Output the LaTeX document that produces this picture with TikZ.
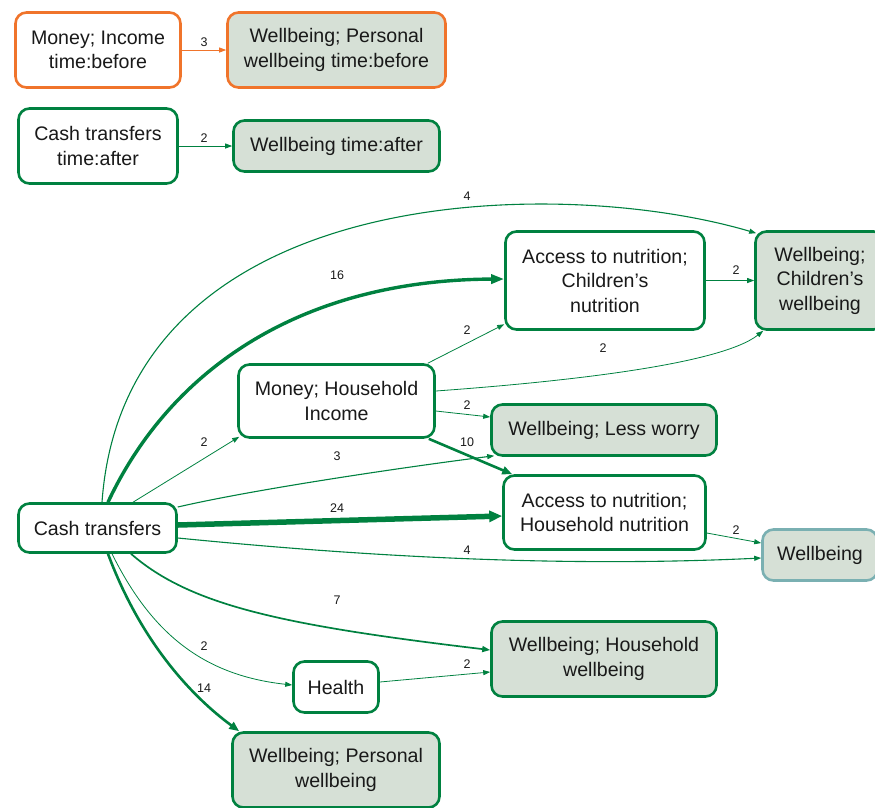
\documentclass[tikz,border=0pt]{standalone}
\usepackage{fontspec}
\setmainfont{Liberation Sans}
\usetikzlibrary{arrows.meta}
\definecolor{ogreen}{RGB}{0,129,64}
\definecolor{oorange}{RGB}{240,116,43}
\definecolor{boxgray}{RGB}{214,224,214}
\definecolor{tealb}{RGB}{122,176,178}
\begin{document}
\begin{tikzpicture}[x=1pt,y=-1pt,
  box/.style={draw=ogreen, line width=2.6pt, rounded corners=11pt, fill=white,
    align=center, inner sep=0pt, text=black!90,
    font=\fontsize{19.6}{24.5}\selectfont},
  outcome/.style={box, fill=boxgray},
  beforebox/.style={draw=oorange},
  lbl/.style={font=\fontsize{12.5}{12.5}\selectfont, inner sep=0pt, text=black!90},
  link/.style={draw=ogreen, line width=0.8pt, -{Triangle[length=7pt,width=5pt]}},
  linkm/.style={draw=ogreen, line width=1.1pt, -{Triangle[length=7pt,width=5pt]}},
  linkw/.style={draw=ogreen, line width=1.7pt, -{Triangle[length=8pt,width=6pt]}},
  linkx/.style={draw=ogreen, line width=2.6pt, -{Triangle[length=10pt,width=8pt]}},
  linkxx/.style={draw=ogreen, line width=3.4pt, -{Triangle[length=13pt,width=9pt]}},
  linkmax/.style={draw=ogreen, line width=5.5pt, -{Triangle[length=13pt,width=11pt]}},
]
\clip (0,0) rectangle (875,807);

% boxes
\node[box, beforebox, minimum width=165pt, minimum height=75pt] (mi) at (98,50) {Money; Income\\time:before};
\node[outcome, beforebox, minimum width=218pt, minimum height=75pt] (wpb) at (336.5,50) {Wellbeing; Personal\\wellbeing time:before};
\node[box, minimum width=159pt, minimum height=75pt] (cta) at (98,146) {Cash transfers\\time:after};
\node[outcome, minimum width=206pt, minimum height=51pt] (wa) at (336.5,146) {Wellbeing time:after};

\node[box, minimum width=199pt, minimum height=98pt] (ach) at (605,280.5) {Access to nutrition;\\Children’s\\nutrition};
\node[outcome, minimum width=129pt, minimum height=98pt] (wch) at (820,280.5) {Wellbeing;\\Children’s\\wellbeing};
\node[box, minimum width=196pt, minimum height=73pt] (mhh) at (336.5,401) {Money; Household\\Income};
\node[outcome, minimum width=225pt, minimum height=51pt] (lw) at (604,430) {Wellbeing; Less worry};
\node[box, minimum width=202pt, minimum height=74pt] (ahh) at (604.5,512.5) {Access to nutrition;\\Household nutrition};
\node[outcome, draw=tealb, minimum width=115pt, minimum height=51pt] (wb) at (820,555) {Wellbeing};
\node[box, minimum width=158pt, minimum height=49pt] (ct) at (97.5,528) {Cash transfers};
\node[outcome, minimum width=225pt, minimum height=75pt] (whh) at (604,659) {Wellbeing; Household\\wellbeing};
\node[box, minimum width=85pt, minimum height=51pt] (hl) at (336,687) {Health};
\node[outcome, minimum width=207pt, minimum height=75pt] (wp) at (336,770) {Wellbeing; Personal\\wellbeing};

% connectors
\draw[link, draw=oorange] (mi.east) -- (wpb.west);
\draw[link] (cta.east) -- (wa.west);

\draw[linkm] ([xshift=4.5pt]ct.north) .. controls (125,180) and (560,175) .. ([shift={(2pt,-3pt)}]wch.north west);
\draw[linkxx] ([xshift=10.5pt]ct.north) .. controls (170,370) and (300,280) .. ([yshift=1.5pt]ach.west);
\draw[link] ([xshift=35.5pt]ct.north) -- ([shift={(2pt,2pt)}]mhh.south west);
\draw[linkm] ([yshift=21pt]ct.east) .. controls (260,488) and (420,465) .. ([shift={(4pt,1pt)}]lw.south west);
\draw[linkmax] ([yshift=3pt]ct.east) -- ([yshift=-3.5pt]ahh.west);
\draw[linkm] ([yshift=-10pt]ct.east) .. controls (350,555) and (550,568) .. ([yshift=-3pt]wb.west);
\draw[linkw] ([xshift=33.5pt]ct.south) .. controls (190,605) and (280,625) .. ([yshift=9pt]whh.west);
\draw[link] ([xshift=14.5pt]ct.south) .. controls (150,630) and (200,675) .. ([yshift=2pt]hl.west);
\draw[linkx] ([xshift=10.5pt]ct.south) .. controls (140,640) and (190,695) .. ([xshift=8pt]wp.north west);

\draw[link] ([xshift=-8pt]mhh.north east) -- ([yshift=6.5pt]ach.south west);
\draw[link] ([yshift=10pt]mhh.east) .. controls (560,382) and (720,365) .. ([xshift=9pt]wch.south west);
\draw[link] ([yshift=-10pt]mhh.east) -- ([yshift=13pt]lw.west);
\draw[linkx] ([xshift=-7pt]mhh.south east) -- ([xshift=10pt]ahh.north west);

\draw[link] (ach.east) -- (wch.west);
\draw[link] ([yshift=-20.5pt]ahh.east) -- ([yshift=12pt]wb.west);
\draw[link] ([yshift=5pt]hl.east) -- ([yshift=-13pt]whh.west);

% connector weights
\node[lbl] (n1) at (204,42) {3};
\node[lbl] (n2) at (204,138) {2};
\node[lbl] (n3) at (467,196) {4};
\node[lbl] (n4) at (337,275) {16};
\node[lbl] (n5) at (467,330) {2};
\node[lbl] (n6) at (736,270) {2};
\node[lbl] (n7) at (603,348) {2};
\node[lbl] (n8) at (204,442) {2};
\node[lbl] (n9) at (467,405) {2};
\node[lbl] (n10) at (467,442) {10};
\node[lbl] (n11) at (337,456) {3};
\node[lbl] (n12) at (337,508) {24};
\node[lbl] (n13) at (736,530) {2};
\node[lbl] (n14) at (467,550) {4};
\node[lbl] (n15) at (337,600) {7};
\node[lbl] (n16) at (204,646) {2};
\node[lbl] (n17) at (467,664) {2};
\node[lbl] (n18) at (204,688) {14};
\end{tikzpicture}
\end{document}
